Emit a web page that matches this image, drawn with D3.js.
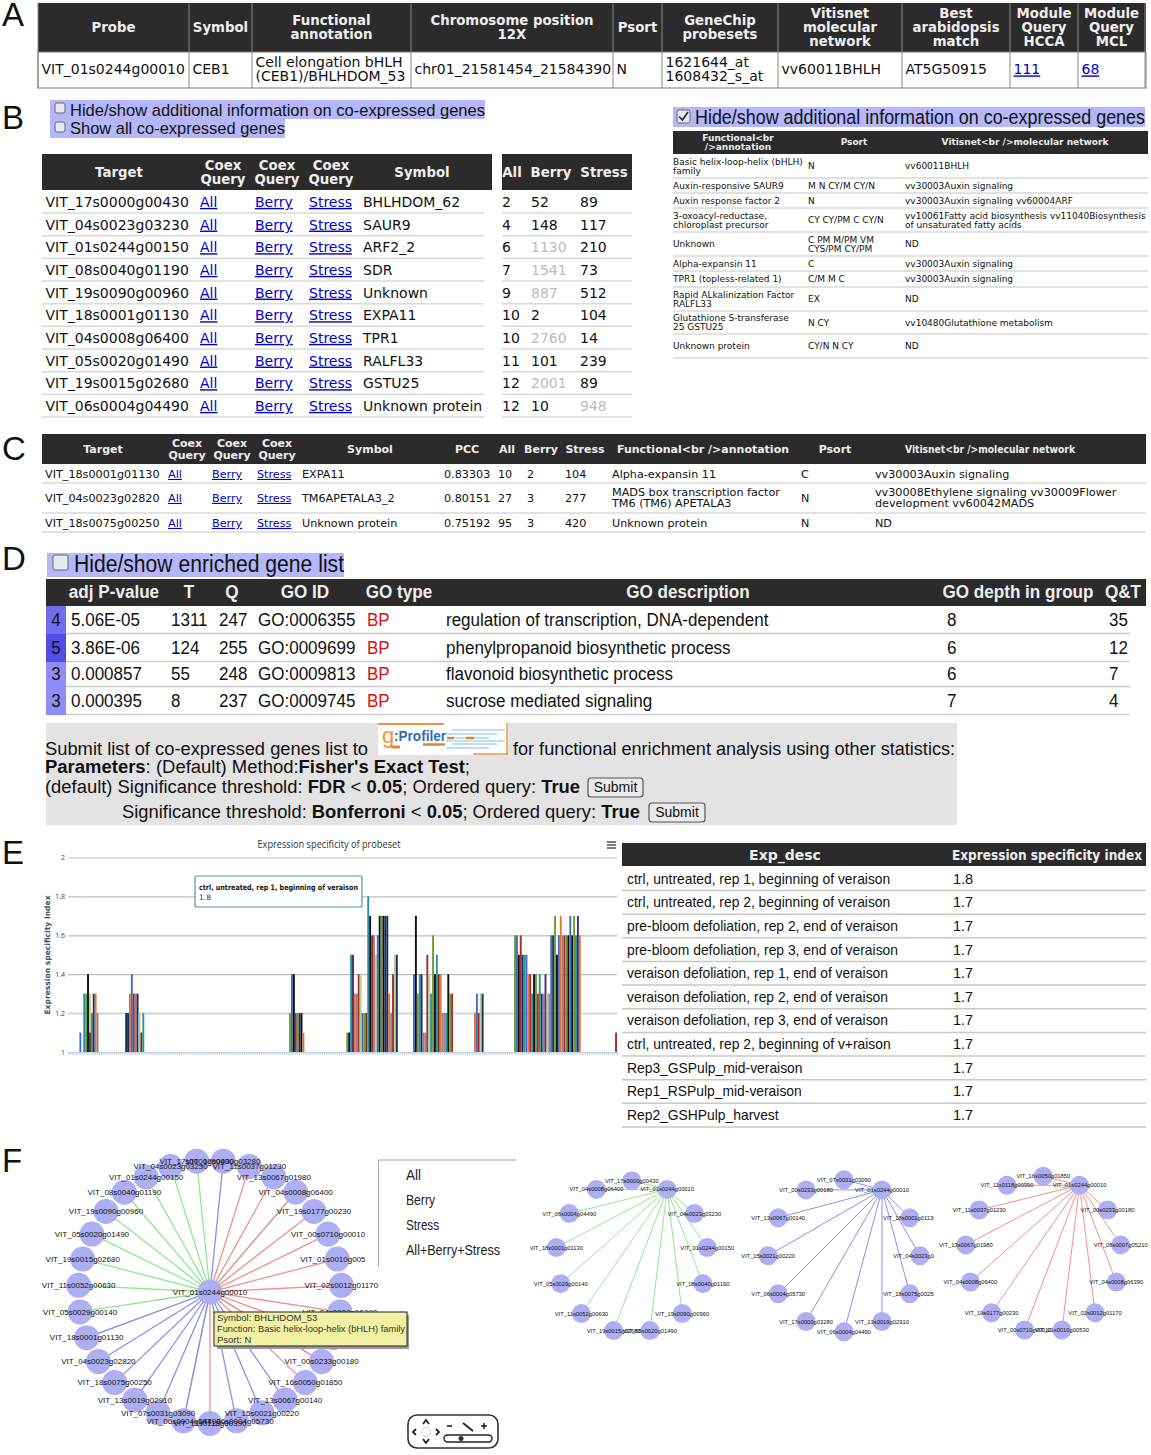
<!DOCTYPE html>
<html>
<head>
<meta charset="utf-8">
<title>Co-expression results</title>
<script src="https://d3js.org/d3.v7.min.js"></script>
<style>
  body { margin: 0; background: #fff; }
  svg { display: block; }
</style>
</head>
<body>
<div id="chart"></div>
<script>
// ---- panel A
const probeHead = [["Probe"], ["Symbol"], ["Functional", "annotation"], ["Chromosome position", "12X"], ["Psort"],
    ["GeneChip", "probesets"], ["Vitisnet", "molecular", "network"], ["Best", "arabidopsis", "match"],
    ["Module", "Query", "HCCA"], ["Module", "Query", "MCL"]];
const probeRow = [["VIT_01s0244g00010"], ["CEB1"], ["Cell elongation bHLH", "(CEB1)/BHLHDOM_53"], ["chr01_21581454_21584390"], ["N"],
    ["1621644_at", "1608432_s_at"], ["vv60011BHLH"], ["AT5G50915"], ["111"], ["68"]];

// ---- panel B
const coexTargets = ["VIT_17s0000g00430", "VIT_04s0023g03230", "VIT_01s0244g00150", "VIT_08s0040g01190", "VIT_19s0090g00960",
    "VIT_18s0001g01130", "VIT_04s0008g06400", "VIT_05s0020g01490", "VIT_19s0015g02680", "VIT_06s0004g04490"];
const coexSymbols = ["BHLHDOM_62", "SAUR9", "ARF2_2", "SDR", "Unknown", "EXPA11", "TPR1", "RALFL33", "GSTU25", "Unknown protein"];
const coexAll = [2, 4, 6, 7, 9, 10, 10, 11, 12, 12];
const coexBerry = [52, 148, 1130, 1541, 887, 2, 2760, 101, 2001, 10];
const coexStress = [89, 117, 210, 73, 512, 104, 14, 239, 89, 948];
const extraAnnot = [["Basic helix-loop-helix (bHLH)", "family"], ["Auxin-responsive SAUR9"], ["Auxin response factor 2"],
    ["3-oxoacyl-reductase,", "chloroplast precursor"], ["Unknown"], ["Alpha-expansin 11"], ["TPR1 (topless-related 1)"],
    ["Rapid ALkalinization Factor", "RALFL33"], ["Glutathione S-transferase", "25 GSTU25"], ["Unknown protein"]];
const extraPsort = [["N"], ["M N CY/M CY/N"], ["N"], ["CY CY/PM C CY/N"], ["C PM M/PM VM", "CYS/PM CY/PM"], ["C"], ["C/M M C"], ["EX"], ["N CY"], ["CY/N N CY"]];
const extraNet = [["vv60011BHLH"], ["vv30003Auxin signaling"], ["vv30003Auxin signaling vv60004ARF"],
    ["vv10061Fatty acid biosynthesis vv11040Biosynthesis", "of unsaturated fatty acids"], ["ND"], ["vv30003Auxin signaling"],
    ["vv30003Auxin signaling"], ["ND"], ["vv10480Glutathione metabolism"], ["ND"]];

// ---- panel C
const pccHead = [["Target"], ["Coex", "Query"], ["Coex", "Query"], ["Coex", "Query"], ["Symbol"], ["PCC"], ["All"], ["Berry"], ["Stress"],
    ["Functional<br />annotation"], ["Psort"], ["Vitisnet<br />molecular network"]];
const pccTargets = ["VIT_18s0001g01130", "VIT_04s0023g02820", "VIT_18s0075g00250"];
const pccSymbols = ["EXPA11", "TM6APETALA3_2", "Unknown protein"];
const pccValues = [0.83303, 0.80151, 0.75192];
const pccAll = [10, 27, 95];
const pccBerry = [2, 3, 3];
const pccStress = [104, 277, 420];
const pccAnnot = [["Alpha-expansin 11"], ["MADS box transcription factor", "TM6 (TM6) APETALA3"], ["Unknown protein"]];
const pccPsort = ["C", "N", "N"];
const pccNet = [["vv30003Auxin signaling"], ["vv30008Ethylene signaling vv30009Flower", "development vv60042MADS"], ["ND"]];

// ---- panel D
const goHead = ["adj P-value", "T", "Q", "GO ID", "GO type", "GO description", "GO depth in group", "Q&T"];
const goRank = [4, 5, 3, 3];
const goP = ["5.06E-05", "3.86E-06", "0.000857", "0.000395"];
const goT = [1311, 124, 55, 8];
const goQ = [247, 255, 248, 237];
const goId = ["GO:0006355", "GO:0009699", "GO:0009813", "GO:0009745"];
const goDesc = ["regulation of transcription, DNA-dependent", "phenylpropanoid biosynthetic process", "flavonoid biosynthetic process", "sucrose mediated signaling"];
const goDepth = [8, 6, 6, 7];
const goQT = [35, 12, 7, 4];

// ---- panel E, only the non-empty samples of the 288 are listed
const barIdx = [6, 8, 9, 10, 11, 11, 12, 13, 14, 15,
    30, 31, 32, 33, 34, 35, 36, 37, 38, 39,
    116, 117, 118, 119, 120, 121, 122, 123,
    146, 147, 148, 149, 150, 151, 152, 153, 154, 155, 156, 157, 158, 159, 160, 161, 162, 163, 164, 165, 166, 167, 168, 169, 170, 171, 172,
    181, 182, 183, 184, 185, 186, 187, 188, 189, 190, 191, 192, 193, 194, 195, 196, 197, 198, 199, 200, 201,
    213, 214, 215, 216, 217,
    234, 235, 236, 237, 238, 239, 240, 241, 242, 243, 244, 245, 246, 247, 248, 249, 250, 251, 252, 253, 254, 255, 256, 257, 258, 259, 260, 261, 262, 263, 264, 265, 266, 267, 268,
    287];
const barVal = [1.1, 1.3, 1.3, 1.4, 1.3, 1.1, 1.2, 1.3, 1.3, 1.2,
    1.2, 1.2, 1.3, 1.4, 1.3, 1.3, 1.3, 1.2, 1.1, 1.2,
    1.2, 1.4, 1.4, 1.2, 1.2, 1.2, 1.2, 1.1,
    1.1, 1.1, 1.5, 1.5, 1.3, 1.3, 1.4, 1.4, 1.2, 1.2, 1.2, 1.8, 1.7, 1.6, 1.6, 1.5, 1.6, 1.7, 1.7, 1.7, 1.7, 1.7, 1.3, 1.2, 1.4, 1.5, 1.5,
    1.4, 1.7, 1.3, 1.4, 1.4, 1.1, 1.1, 1.5, 1.4, 1.3, 1.6, 1.4, 1.5, 1.4, 1.4, 1.2, 1.2, 1.2, 1.4, 1.3, 1.3,
    1.2, 1.3, 1.2, 1.3, 1.3,
    1.6, 1.6, 1.5, 1.6, 1.5, 1.5, 1.5, 1.4, 1.4, 1.3, 1.4, 1.4, 1.3, 1.4, 1.3, 1.3, 1.4, 1.3, 1.3, 1.6, 1.6, 1.7, 1.5, 1.6, 1.7, 1.6, 1.6, 1.6, 1.6, 1.7, 1.6, 1.7, 1.6, 1.7, 1.6,
    1.1];
// one letter per bar, same order as barIdx, decoded by the tone scale
const barTone = ["btgkldtnom", "nnobrmnldt", "gbkrgnko", "gktpomrlbgdtkrmlbkgknnomrln",
    "bkgtnmmrltgktdommtkgr", "obrln", "gbkrntbortkgrtnmplmbngkbomrgkbkgtpo", "r"].join("");
const specDesc = ["ctrl, untreated, rep 1, beginning of veraison", "ctrl, untreated, rep 2, beginning of veraison",
    "pre-bloom defoliation, rep 2, end of veraison", "pre-bloom defoliation, rep 3, end of veraison",
    "veraison defoliation, rep 1, end of veraison", "veraison defoliation, rep 2, end of veraison",
    "veraison defoliation, rep 3, end of veraison", "ctrl, untreated, rep 2, beginning of v+raison",
    "Rep3_GSPulp_mid-veraison", "Rep1_RSPulp_mid-veraison", "Rep2_GSHPulp_harvest"];
const specIndex = ["1.8", "1.7", "1.7", "1.7", "1.7", "1.7", "1.7", "1.7", "1.7", "1.7", "1.7"];
const specTicks = [1, 1.2, 1.4, 1.6, 1.8, 2];

// ---- panel F, ring order of each network
const hub = "VIT_01s0244g00010";
const ringUnion = ["VIT_17s0000g03280", "VIT_11s0037g01230", "VIT_13s0067g01980", "VIT_04s0008g06400", "VIT_19s0177g00230",
    "VIT_00s0710g00010", "VIT_01s0010g00530", "VIT_02s0012g01170", "VIT_04s0008g06390", "VIT_08s0007g05210", "VIT_00s0233g00180",
    "VIT_16s0050g01850", "VIT_13s0067g00140", "VIT_15s0021g00220", "VIT_06s0004g05730", "VIT_11s0118g00390", "VIT_06s0004g04490",
    "VIT_07s0031g03090", "VIT_13s0019g02910", "VIT_18s0075g00250", "VIT_04s0023g02820", "VIT_18s0001g01130", "VIT_05s0029g00140",
    "VIT_11s0052g00630", "VIT_19s0015g02680", "VIT_05s0020g01490", "VIT_19s0090g00960", "VIT_08s0040g01190", "VIT_01s0244g00150",
    "VIT_04s0023g03230", "VIT_17s0000g00430"];
const ringAll = ["VIT_17s0000g00430", hub, "VIT_04s0023g03230", "VIT_01s0244g00150", "VIT_08s0040g01190", "VIT_19s0090g00960",
    "VIT_05s0020g01490", "VIT_19s0015g02680", "VIT_11s0052g00630", "VIT_05s0029g00140", "VIT_18s0001g01130", "VIT_06s0004g04490", "VIT_04s0008g06400"];
const ringBerry = ["VIT_07s0031g03090", hub, "VIT_18s0001g01130", "VIT_04s0023g02820", "VIT_18s0075g00250", "VIT_13s0019g02910",
    "VIT_06s0004g04490", "VIT_17s0000g03280", "VIT_06s0004g05730", "VIT_15s0021g00220", "VIT_13s0067g00140", "VIT_00s0233g00180"];
const ringStress = ["VIT_16s0050g01850", hub, "VIT_00s0233g00180", "VIT_08s0007g05210", "VIT_04s0008g06390", "VIT_02s0012g01170",
    "VIT_01s0010g00530", "VIT_00s0710g00010", "VIT_19s0177g00230", "VIT_04s0008g06400", "VIT_13s0067g01980", "VIT_11s0037g01230", "VIT_11s0118g00390"];
const netMenu = ["All", "Berry", "Stress", "All+Berry+Stress"];

// ---- layout and helpers
const W = 1151, H = 1455;
const DARK = "#2b2b2b", RULE = "#d9d9d9", LINK = "#0000cc";
const VERDANA = "'DejaVu Sans', sans-serif", ARIAL = "'Liberation Sans', Arial, sans-serif";
const GREEN = "#8fe88f", BLUE = "#8f8fe6", RED = "#f09090", NODE = "#aeaef2";

const svg = d3.select("#chart").append("svg").attr("width", W).attr("height", H).attr("viewBox", `0 0 ${W} ${H}`);
svg.append("rect").attr("width", W).attr("height", H).attr("fill", "#fff");

// y is the vertical centre of the text. w squeezes to a measured width, sx by a factor
function txt(g, s, x, y, o) {
    o = o || {};
    const t = g.append("text").text(s).attr("x", x).attr("y", y).attr("dy", ".35em")
        .attr("font-family", o.font || VERDANA)
        .attr("font-size", o.size || 14)
        .attr("font-weight", o.bold ? "bold" : "normal")
        .attr("fill", o.fill || "#111")
        .attr("text-anchor", o.anchor || "start");
    const w = o.w || (o.sx ? t.node().getComputedTextLength() * o.sx : 0);
    if (w) t.attr("textLength", w).attr("lengthAdjust", "spacingAndGlyphs");
    if (o.link) t.attr("text-decoration", "underline");
    return t;
}

function lines(g, arr, x, y, lh, o) {
    arr.forEach((s, i) => txt(g, s, x, y + (i - (arr.length - 1) / 2) * lh, o));
}

function rect(g, x, y, w, h, fill) {
    return g.append("rect").attr("x", x).attr("y", y).attr("width", w).attr("height", h).attr("fill", fill);
}

function hline(g, x1, x2, y, col, sw) {
    g.append("line").attr("x1", x1).attr("x2", x2).attr("y1", y).attr("y2", y).attr("stroke", col || RULE).attr("stroke-width", sw || 1.5);
}

function checkbox(g, x, y, s, on) {
    rect(g, x, y, s, s, "#e8e8ee").attr("stroke", "#666").attr("stroke-width", 1).attr("rx", 2);
    if (on) g.append("path").attr("d", `M${x + 2},${y + s / 2} L${x + s * 0.42},${y + s - 3} L${x + s - 2},${y + 2}`)
        .attr("fill", "none").attr("stroke", "#224").attr("stroke-width", 1.6);
}

// panel letters
const letters = ["A", "B", "C", "D", "E", "F"];
const letterY = [14, 117, 448, 558, 852, 1160];
letters.forEach((l, i) => txt(svg, l, 2, letterY[i], { font: ARIAL, size: 33 }));

// ---- A
(function () {
    const g = svg.append("g");
    const edges = [38, 189, 252, 411, 613, 662, 778, 902, 1010, 1078, 1145];
    rect(g, 38, 3, 1108, 49, DARK);
    rect(g, 38, 52, 1108, 36, "#fff").attr("stroke", "#777").attr("stroke-width", 1);
    edges.forEach(x => {
        g.append("line").attr("x1", x).attr("x2", x).attr("y1", 3).attr("y2", 88).attr("stroke", "#888").attr("stroke-width", 1);
    });
    probeHead.forEach((h, i) => {
        lines(g, h, (edges[i] + edges[i + 1]) / 2, 27, 14, { bold: true, size: 14, sx: 0.95, fill: "#eee", anchor: "middle" });
    });
    probeRow.forEach((c, i) => {
        const link = i >= 8;
        lines(g, c, edges[i] + 3.5, 69.5, 14, { size: 14, fill: link ? LINK : "#111", link: link });
    });
})();

// ---- B left
(function () {
    const g = svg.append("g");
    rect(g, 50, 100, 435, 19, "#b6b6fb");
    rect(g, 50, 119, 235, 19, "#b6b6fb");
    checkbox(g, 55, 103, 10);
    checkbox(g, 55, 122, 10);
    txt(g, "Hide/show additional information on co-expressed genes", 70, 110, { font: ARIAL, size: 17, w: 415 });
    txt(g, "Show all co-expressed genes", 70, 128, { font: ARIAL, size: 17, w: 215 });

    rect(g, 42, 154, 450, 36, DARK);
    rect(g, 502, 154, 130, 36, DARK);
    const hd = { bold: true, size: 14, sx: 0.95, fill: "#eee", anchor: "middle" };
    txt(g, "Target", 119, 172, hd);
    [223, 277, 331].forEach(x => lines(g, ["Coex", "Query"], x, 172, 14.5, hd));
    txt(g, "Symbol", 422, 172, hd);
    txt(g, "All", 512, 172, hd);
    txt(g, "Berry", 551, 172, hd);
    txt(g, "Stress", 604, 172, hd);

    const rowY = d3.scaleLinear().domain([0, 9]).range([202, 406]);
    const grey = v => v > 800 ? "#bbb" : "#111";
    coexTargets.forEach((t, i) => {
        const y = rowY(i);
        txt(g, t, 45.5, y);
        txt(g, "All", 200, y, { fill: LINK, link: true });
        txt(g, "Berry", 255, y, { fill: LINK, link: true });
        txt(g, "Stress", 309, y, { fill: LINK, link: true });
        txt(g, coexSymbols[i], 363, y);
        txt(g, coexAll[i], 502, y);
        txt(g, coexBerry[i], 531, y, { fill: grey(coexBerry[i]) });
        txt(g, coexStress[i], 580, y, { fill: grey(coexStress[i]) });
        hline(g, 42, 484, y + 11);
        hline(g, 502, 632, y + 11);
    });
})();

// ---- B right
(function () {
    const g = svg.append("g");
    rect(g, 673, 107, 472, 20, "#b6b6fb");
    checkbox(g, 677, 110, 13, true);
    txt(g, "Hide/show additional information on co-expressed genes", 695, 117, { font: ARIAL, size: 20, w: 450 });
    rect(g, 673, 131, 475, 23, DARK);
    const hd = { bold: true, size: 9, fill: "#eee", anchor: "middle" };
    lines(g, ["Functional<br", "/>annotation"], 738, 142.5, 9, hd);
    txt(g, "Psort", 854, 142, hd);
    txt(g, "Vitisnet<br />molecular network", 1025, 142, hd);
    const bottoms = [178, 193, 208, 232, 256, 271, 287, 311, 334, 358];
    const tops = [154].concat(bottoms);
    extraAnnot.forEach((a, i) => {
        const y = (tops[i] + bottoms[i]) / 2;
        const o = { size: 9 };
        lines(g, a, 673, y, 9, o);
        lines(g, extraPsort[i], 808, y, 9, o);
        lines(g, extraNet[i], 905, y, 9, o);
        hline(g, 673, 1148, bottoms[i]);
    });
})();

// ---- C
(function () {
    const g = svg.append("g");
    rect(g, 42, 434, 1104, 30, DARK);
    const hx = [103, 187, 232, 277, 370, 467, 507, 541, 585, 703, 835, 990];
    const hd = { bold: true, size: 11, fill: "#eee", anchor: "middle" };
    pccHead.forEach((h, i) => lines(g, h, hx[i], 449, 12, i === 11 ? Object.assign({}, hd, { w: 170 }) : hd));
    const rowY = [474, 498, 523], bottom = [483, 513, 532];
    pccTargets.forEach((t, i) => {
        const y = rowY[i], o = { size: 11.2 }, lk = { size: 11.2, fill: LINK, link: true };
        txt(g, t, 45, y, o);
        txt(g, "All", 168, y, lk);
        txt(g, "Berry", 212, y, lk);
        txt(g, "Stress", 257, y, lk);
        txt(g, pccSymbols[i], 302, y, o);
        txt(g, pccValues[i], 444, y, o);
        txt(g, pccAll[i], 498, y, o);
        txt(g, pccBerry[i], 527, y, o);
        txt(g, pccStress[i], 565, y, o);
        lines(g, pccAnnot[i], 612, y, 11, o);
        txt(g, pccPsort[i], 801, y, o);
        lines(g, pccNet[i], 875, y, 11, o);
        hline(g, 42, 1146, bottom[i]);
    });
})();

// ---- D
(function () {
    const g = svg.append("g");
    rect(g, 47, 553, 297, 24, "#b6b6fb");
    checkbox(g, 53, 555, 15);
    txt(g, "Hide/show enriched gene list", 74, 564, { font: ARIAL, size: 23, w: 270 });
    rect(g, 46, 579, 1100, 27, DARK);
    const hx = [114, 189, 232, 305, 399, 688, 1018, 1123];
    goHead.forEach((h, i) => txt(g, h, hx[i], 592, { font: ARIAL, bold: true, size: 18, sx: 0.95, fill: "#eee", anchor: "middle" }));
    const rowY = [620, 648, 674, 701], tops = [606, 634, 662, 687], bottoms = [634, 662, 687, 715];
    const rankFill = d3.scaleLinear().domain([3, 5]).range(["#8d8df5", "#4f4fe8"]);
    const f = { font: ARIAL, size: 18, sx: 0.945 };
    goRank.forEach((r, i) => {
        const y = rowY[i];
        rect(g, 46, tops[i], 20, bottoms[i] - tops[i], rankFill(r));
        txt(g, r, 56, y, Object.assign({}, f, { anchor: "middle" }));
        txt(g, goP[i], 71, y, f);
        txt(g, goT[i], 171, y, f);
        txt(g, goQ[i], 219, y, f);
        txt(g, goId[i], 258, y, f);
        txt(g, "BP", 367, y, Object.assign({}, f, { fill: "#e01010" }));
        txt(g, goDesc[i], 446, y, f);
        txt(g, goDepth[i], 947, y, f);
        txt(g, goQT[i], 1109, y, f);
        hline(g, 66, 1130, bottoms[i] - 0.5, "#ccc", 1.5);
    });

    // grey submit box
    rect(g, 46, 723, 911, 102, "#e3e3e3");
    const lg = g.append("g");
    rect(lg, 378, 723, 130, 32, "#fff");
    const stripes = [730, 734, 738, 741, 744, 748];
    stripes.forEach((y, i) => hline(lg, 452 - (i % 2) * 6, 505 - (i % 3) * 8, y, "#a9d3ee", 1.5));
    hline(lg, 378, 444, 724, "#e8963c", 2);
    hline(lg, 473, 508, 754, "#e8963c", 1.5);
    lg.append("line").attr("x1", 507).attr("x2", 507).attr("y1", 723).attr("y2", 754).attr("stroke", "#e8963c").attr("stroke-width", 1.5);
    hline(lg, 391, 400, 747, "#d98a30", 3);
    hline(lg, 423, 445, 744.5, "#d98a30", 2.5);
    hline(lg, 447, 454, 738, "#d98a30", 2.5);
    hline(lg, 466, 474, 738, "#d98a30", 2.5);
    txt(lg, "g", 382, 735, { font: ARIAL, size: 22, fill: "#e8963c" });
    txt(lg, ":Profiler", 394, 736, { font: ARIAL, bold: true, size: 14.5, fill: "#2f6db5", w: 52 });

    function mixed(x, y, parts, w) {
        const t = g.append("text").attr("x", x).attr("y", y).attr("dy", ".35em").attr("font-family", ARIAL).attr("font-size", 18).attr("fill", "#111");
        parts.forEach(p => t.append("tspan").text(p[0]).attr("font-weight", p[1] ? "bold" : "normal"));
        if (w) t.attr("textLength", w).attr("lengthAdjust", "spacingAndGlyphs");
    }
    mixed(45, 749, [["Submit list of co-expressed genes list to", 0]], 323);
    mixed(513, 749, [["for functional enrichment analysis using other statistics:", 0]], 442);
    mixed(45, 767, [["Parameters", 1], [": (Default) Method:", 0], ["Fisher's Exact Test", 1], [";", 0]], 425);
    mixed(45, 787, [["(default) Significance threshold: ", 0], ["FDR", 1], [" < ", 0], ["0.05", 1], ["; Ordered query: ", 0], ["True", 1]], 535);
    mixed(122, 812, [["Significance threshold: ", 0], ["Bonferroni", 1], [" < ", 0], ["0.05", 1], ["; Ordered query: ", 0], ["True", 1]], 518);
    [[588, 778, 55, 19], [649, 803, 56, 19]].forEach(b => {
        rect(g, b[0], b[1], b[2], b[3], "#eaeaea").attr("stroke", "#555").attr("stroke-width", 1.2).attr("rx", 3);
        txt(g, "Submit", b[0] + b[2] / 2, b[1] + b[3] / 2, { font: ARIAL, size: 14, anchor: "middle" });
    });
})();

// ---- E chart
(function () {
    const g = svg.append("g");
    const left = 68, right = 617, top = 857.5, bottom = 1052;
    const x = d3.scaleBand().domain(d3.range(288)).range([left, right]);
    const y = d3.scaleLinear().domain([1, 2]).range([bottom, top]);
    const tone = d3.scaleOrdinal()
        .domain(["b", "g", "t", "k", "l", "d", "n", "o", "m", "r", "p"])
        .range(["#3f6fc0", "#6f9c35", "#2a8fa8", "#111111", "#b7cf8f", "#7a2e12", "#16305f", "#e0783a", "#a27a88", "#a82a2a", "#4a2a70"]);

    txt(g, "Expression specificity of probeset", 329, 844, { font: "'Open Sans', sans-serif", size: 10.5, anchor: "middle", fill: "#333", w: 143 });
    [842, 845, 848].forEach(yy => hline(g, 607, 616, yy, "#444", 1.4));

    const yAxis = g.append("g").attr("transform", `translate(${left},0)`)
        .call(d3.axisLeft(y).tickValues(specTicks).tickSize(-(right - left)).tickFormat(d3.format("~g")));
    yAxis.select(".domain").remove();
    yAxis.selectAll(".tick line").attr("stroke", d => d === 1.2 ? "#d4d4d4" : "#bdbdbd").attr("stroke-width", d => d === 1.2 ? 2 : 1.2);
    yAxis.selectAll(".tick text").attr("font-family", "'Open Sans', sans-serif").attr("font-size", 7).attr("fill", "#444").attr("x", -3);

    const xAxis = g.append("g").attr("transform", `translate(0,${bottom})`)
        .call(d3.axisBottom(x).tickSize(3).tickFormat(""));
    xAxis.select(".domain").attr("stroke", "#c0d0e0");
    xAxis.selectAll(".tick line").attr("stroke", "#c0d0e0").attr("stroke-width", 0.9);

    txt(g, "Expression specificity Index", 0, 0, { bold: true, size: 7.6, fill: "#3d4f66", anchor: "middle" })
        .attr("transform", "translate(47,955) rotate(-90)");

    const bars = barIdx.map((b, i) => ({ i: b, v: barVal[i], t: barTone[i] }));
    g.append("g").selectAll("rect").data(bars).join("rect")
        .attr("x", d => x(d.i))
        .attr("width", x.bandwidth())
        .attr("y", d => y(d.v))
        .attr("height", d => y(1) - y(d.v))
        .attr("fill", d => tone(d.t));

    rect(g, 195, 876, 167, 31, "#fff").attr("stroke", "#4a97b0").attr("stroke-width", 1.2).attr("rx", 2);
    txt(g, specDesc[0], 199, 887, { bold: true, size: 7.5, w: 159 });
    txt(g, specIndex[0], 199, 897, { size: 7.5, fill: "#333" });
})();

// ---- E table
(function () {
    const g = svg.append("g");
    rect(g, 622, 843, 524, 23, DARK);
    txt(g, "Exp_desc", 785, 855, { bold: true, size: 14, fill: "#eee", anchor: "middle" });
    txt(g, "Expression specificity index", 1047, 855, { bold: true, size: 14, fill: "#eee", anchor: "middle", w: 190 });
    const rowY = d3.scaleLinear().domain([0, 10]).range([878.5, 1115]);
    specDesc.forEach((d, i) => {
        txt(g, d, 627, rowY(i), { font: ARIAL, size: 14.5, sx: 0.955 });
        txt(g, specIndex[i], 953, rowY(i), { font: ARIAL, size: 14.5 });
        hline(g, 622, 1146, rowY(i) + 12, "#c8c8c8", 1.5);
    });
})();

// ---- F networks, nodes sit on a circle in ring order
function network(ring, cx, cy, r, nodeR, labelSize, startDeg, clipId, edgeSets) {
    const g = svg.append("g");
    if (clipId) g.attr("clip-path", `url(#${clipId})`);
    const ang = d3.scaleLinear().domain([0, ring.length]).range([startDeg, startDeg + 360]);
    const pos = {};
    ring.forEach((n, i) => {
        const a = ang(i) * Math.PI / 180;
        pos[n] = [cx + r * Math.sin(a), cy - r * Math.cos(a)];
    });
    const c = edgeSets.center || pos[hub];
    edgeSets.sets.forEach(set => {
        set.names.filter(n => n !== hub).forEach(n => {
            g.append("line").attr("x1", c[0]).attr("y1", c[1]).attr("x2", pos[n][0]).attr("y2", pos[n][1])
                .attr("stroke", set.col).attr("stroke-width", edgeSets.sw);
        });
    });
    const nodes = ring.map(n => ({ n: n, p: pos[n] }));
    if (edgeSets.center) nodes.push({ n: hub, p: c });
    g.append("g").selectAll("circle").data(nodes).join("circle")
        .attr("cx", d => d.p[0]).attr("cy", d => d.p[1]).attr("r", nodeR).attr("fill", NODE);
    nodes.forEach(d => txt(g, d.n, d.p[0], d.p[1], { font: ARIAL, size: labelSize, anchor: "middle", fill: "#111" }));
    return g;
}

const defs = svg.append("defs");
[["clipA", 530, 734], ["clipB", 735, 934], ["clipS", 936, 1151]].forEach(c => {
    defs.append("clipPath").attr("id", c[0]).append("rect").attr("x", c[1]).attr("y", 1150).attr("width", c[2] - c[1]).attr("height", 210);
});

// the union ring has an odd count and is half a step off the top
network(ringUnion, 210, 1292, 131.5, 12.5, 8, 180 / ringUnion.length, null,
    { center: [210, 1292], sw: 1.3, sets: [{ names: ringAll, col: GREEN }, { names: ringBerry, col: BLUE }, { names: ringStress, col: RED }] });
rect(svg, 365, 1215, 13, 50, "#fff");
network(ringAll, 631.8, 1256.7, 76, 9.5, 5.8, 0, "clipA", { sw: 1, sets: [{ names: ringAll, col: GREEN }] });
network(ringBerry, 844, 1255.7, 76, 9.5, 5.8, 0, "clipB", { sw: 1, sets: [{ names: ringBerry, col: BLUE }] });
network(ringStress, 1043.3, 1254.3, 78, 9.5, 5.8, 0, "clipS", { sw: 1, sets: [{ names: ringStress, col: RED }] });

(function () {
    const g = svg.append("g");
    // hover label over the big network
    rect(g, 217, 1315, 192, 34, "#999");
    rect(g, 214, 1312, 193, 34, "#f2f0a2").attr("stroke", "#222").attr("stroke-width", 1);
    const o = { font: ARIAL, size: 9.5, fill: "#333" };
    txt(g, "Symbol: BHLHDOM_53", 217, 1318, o);
    txt(g, "Function: Basic helix-loop-helix (bHLH) family", 217, 1329, Object.assign({}, o, { w: 188 }));
    txt(g, "Psort: N", 217, 1340, o);

    // network menu
    hline(g, 378, 516, 1160, "#aaa", 1);
    g.append("line").attr("x1", 378.5).attr("x2", 378.5).attr("y1", 1160).attr("y2", 1267).attr("stroke", "#aaa").attr("stroke-width", 1);
    netMenu.forEach((m, i) => txt(g, m, 406, 1175 + i * 25, { font: ARIAL, size: 14, fill: "#222", w: [15, 29, 33, 94][i] }));

    // pan and zoom control
    rect(g, 408, 1415, 90, 33, "#fff").attr("stroke", "#333").attr("stroke-width", 1.6).attr("rx", 9);
    const arrow = d => g.append("path").attr("d", d).attr("fill", "none").attr("stroke", "#222").attr("stroke-width", 1.8);
    arrow("M423,1424 L426,1420 L429,1424");
    arrow("M423,1439 L426,1443 L429,1439");
    arrow("M416,1429 L413,1432 L416,1435");
    arrow("M436,1429 L439,1432 L436,1435");
    g.append("circle").attr("cx", 426).attr("cy", 1432).attr("r", 4.5).attr("fill", "none").attr("stroke", "#aaa").attr("stroke-dasharray", "1.5,1");
    hline(g, 447, 452, 1426, "#222", 1.6);
    arrow("M463,1423 L473,1431");
    hline(g, 481, 487, 1426, "#222", 1.6);
    g.append("line").attr("x1", 484).attr("x2", 484).attr("y1", 1423).attr("y2", 1429).attr("stroke", "#222").attr("stroke-width", 1.6);
    rect(g, 444, 1435, 48, 7, "#fff").attr("stroke", "#222").attr("stroke-width", 1.4).attr("rx", 3.5);
    g.append("circle").attr("cx", 461).attr("cy", 1438.5).attr("r", 2.5).attr("fill", "#333");
})();
</script>
</body>
</html>
